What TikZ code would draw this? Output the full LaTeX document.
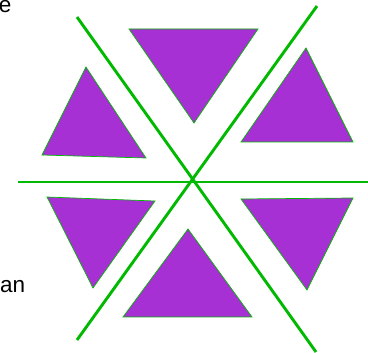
\documentclass[tikz,border=0pt]{standalone}
\usepackage{fontspec}
\setmainfont{Liberation Sans}
\definecolor{lgreen}{RGB}{0,185,0}
\definecolor{tpurple}{RGB}{166,48,212}
\tikzset{
  cut/.style={draw=lgreen, line width=2.9pt},
  tri/.style={fill=tpurple, draw=lgreen, line width=0.7pt, line join=miter},
  lbl/.style={font=\fontsize{22.5}{26}\selectfont, inner sep=0pt}
}
\begin{document}
\begin{tikzpicture}[x=1pt,y=-1pt]
\useasboundingbox (0,0) rectangle (368,353);
% lines
\coordinate (h1) at (18,182);
\coordinate (h2) at (368,182);
\coordinate (a1) at (77,17);
\coordinate (a2) at (316,352);
\coordinate (b1) at (317,6);
\coordinate (b2) at (77,340);
\draw[cut] (h1) -- (h2);
\draw[cut] (a1) -- (a2);
\draw[cut] (b1) -- (b2);
% triangles
\draw[tri] (129,29) -- (258,29) -- (194,123) -- cycle;
\draw[tri] (306,48) -- (241,142) -- (353,142) -- cycle;
\draw[tri] (86,67) -- (42,155) -- (146,158) -- cycle;
\draw[tri] (47,197) -- (155,201) -- (93,288) -- cycle;
\draw[tri] (188,229) -- (123,317) -- (252,317) -- cycle;
\draw[tri] (241,199) -- (353,198) -- (307,290) -- cycle;
% texts
\node[lbl, anchor=base east] (te) at (11.5,12.5) {e};
\node[lbl, anchor=base west] (tan) at (0,293) {an};
\end{tikzpicture}
\end{document}
